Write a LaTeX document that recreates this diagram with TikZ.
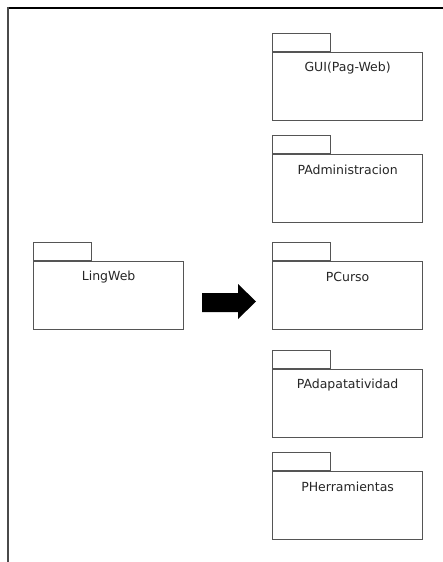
\documentclass[tikz,border=0pt]{standalone}
\usepackage{fontspec}
\setmainfont{DejaVu Sans}
\usetikzlibrary{calc}
\definecolor{frameline}{HTML}{4A4A4A}
\definecolor{boxline}{HTML}{555555}
\tikzset{
  pkgbody/.style={draw=boxline, line width=1.2pt, fill=white, inner sep=0pt,
    minimum width=150pt, minimum height=68pt, anchor=north west},
  pkgtab/.style={draw=boxline, line width=1.2pt, fill=white, inner sep=0pt,
    minimum width=58pt, minimum height=18pt, anchor=south west},
  pkgname/.style={font=\fontsize{12.5}{14}\selectfont, text=black!85, inner sep=0pt}
}
% a UML package: body, tab on its top-left corner, name near the top
\newcommand{\umlpackage}[4]{%
  \node[pkgbody] (#1) at (#2,#3) {};
  \node[pkgtab] (#1-tab) at (#1.north west) {};
  \node[pkgname] (#1-name) at ($(#1.north)+(0,16)$) {#4};
}
\begin{document}
\begin{tikzpicture}[x=1pt,y=-1pt]
  \useasboundingbox (0,0) rectangle (443,562);
  \fill[white] (0,0) rectangle (443,562);
  % outer frame (open to the right and bottom)
  \draw[black, line width=2pt] (7,8) -- (443,8);
  \draw[frameline, line width=2pt] (8,7) -- (8,562);

  \umlpackage{ling}{33}{261}{LingWeb}
  \umlpackage{gui}{272}{52}{GUI(Pag-Web)}
  \umlpackage{padm}{272}{154}{PAdministracion}
  \umlpackage{pcurso}{272}{261}{PCurso}
  \umlpackage{padap}{272}{369}{PAdapatatividad}
  \umlpackage{pherr}{272}{471}{PHerramientas}

  % block arrow between LingWeb and the target packages
  \fill[black] (202,293) -- (238,293) -- (238,284) -- (256,301.5)
    -- (238,319) -- (238,312) -- (202,312) -- cycle;
\end{tikzpicture}
\end{document}
